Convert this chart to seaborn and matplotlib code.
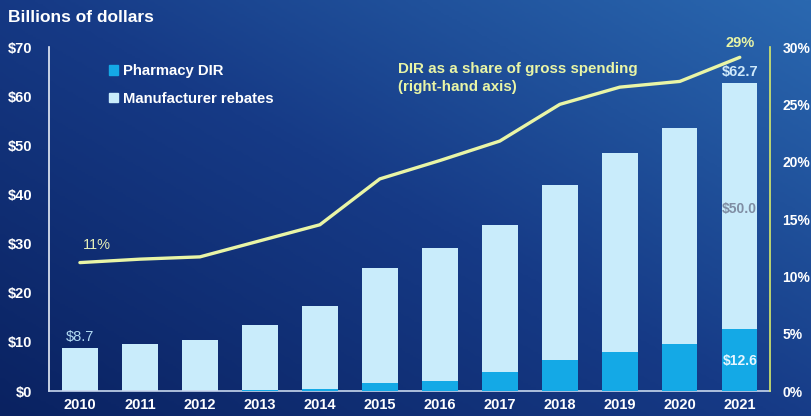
import numpy as np
import pandas as pd
import matplotlib
matplotlib.use("Agg")
import matplotlib.pyplot as plt
import seaborn as sns
from matplotlib.patches import Patch
from matplotlib.colors import LinearSegmentedColormap

years = ["2010", "2011", "2012", "2013", "2014", "2015", "2016", "2017", "2018", "2019", "2020", "2021"]
total = [8.7, 9.6, 10.4, 13.4, 17.4, 25.0, 29.1, 33.8, 41.9, 48.4, 53.5, 62.7]
pharmacy_dir = [0.0, 0.0, 0.1, 0.2, 0.5, 1.7, 2.0, 3.9, 6.3, 8.0, 9.5, 12.6]
manufacturer = [8.7, 9.6, 10.3, 13.2, 16.9, 23.3, 27.1, 29.9, 35.6, 40.4, 44.0, 50.0]
dir_share = [11.2, 11.5, 11.7, 13.1, 14.5, 18.5, 20.1, 21.8, 25.0, 26.5, 27.0, 29.1]
left_ticks = [0, 10, 20, 30, 40, 50, 60, 70]
right_ticks = [0, 5, 10, 15, 20, 25, 30]

df = pd.DataFrame({"year": years, "total": total, "dir": pharmacy_dir,
                   "manufacturer": manufacturer, "share": dir_share})

sns.set_theme(style="white")
plt.rcParams["font.family"] = ["Liberation Sans", "DejaVu Sans"]

C_DIR = "#14a9e6"
C_MAN = "#c9ecfb"
C_LINE = "#e9f5a6"
C_TEXT = "#ffffff"

fig = plt.figure(figsize=(8.12, 4.16), dpi=100)

# background gradient
bg = fig.add_axes([0, 0, 1, 1], zorder=-10)
gx, gy = np.meshgrid(np.linspace(0, 1, 300), np.linspace(0, 1, 200))
grad = 0.6 * gx + 0.55 * gy
cmap = LinearSegmentedColormap.from_list("bg", ["#0a2261", "#163a86", "#2a68b0"])
bg.imshow(grad, cmap=cmap, aspect="auto", origin="lower", extent=[0, 1, 0, 1])
bg.axis("off")

ax = fig.add_axes([0.060, 0.060, 0.888, 0.827])
ax.set_facecolor("none")

sns.barplot(data=df, x="year", y="total", color=C_MAN, width=0.59, ax=ax,
            saturation=1, edgecolor="none", zorder=2)
sns.barplot(data=df, x="year", y="dir", color=C_DIR, width=0.59, ax=ax,
            saturation=1, edgecolor="none", zorder=3)

ax.set_ylim(0, 70)
ax.set_xlim(-0.52, 11.5)
ax.set_yticks(left_ticks)
ax.set_yticklabels([f"${v}" for v in left_ticks])
ax.set_xlabel("")
ax.set_ylabel("")
ax.tick_params(axis="both", colors=C_TEXT, labelsize=10.5, length=0, pad=5)
for lab in ax.get_xticklabels() + ax.get_yticklabels():
    lab.set_fontweight("bold")
    lab.set_color(C_TEXT)
ax.tick_params(axis="y", pad=12)
for s in ["top", "right"]:
    ax.spines[s].set_visible(False)
ax.spines["left"].set_color("#e8eef8")
ax.spines["bottom"].set_color("#c8d8ee")
ax.spines["left"].set_linewidth(1.2)
ax.spines["bottom"].set_linewidth(1.2)

ax2 = ax.twinx()
ax2.set_facecolor("none")
sns.lineplot(x=np.arange(len(years)), y=df["share"], ax=ax2, color=C_LINE,
             linewidth=2.4, zorder=5)
ax2.set_ylim(0, 30)
ax2.set_yticks(right_ticks)
ax2.set_yticklabels([f"{v}%" for v in right_ticks])
ax2.set_ylabel("")
ax2.tick_params(axis="y", colors=C_TEXT, labelsize=10, length=0, pad=9)
for lab in ax2.get_yticklabels():
    lab.set_fontweight("bold")
for s in ["top", "left", "bottom"]:
    ax2.spines[s].set_visible(False)
ax2.spines["right"].set_color("#d7ea6a")
ax2.spines["right"].set_linewidth(1.2)
ax2.set_xlim(-0.52, 11.5)

# annotations
ax.text(0, total[0] + 0.8, f"${total[0]}", color="#b3dcf4", fontsize=10.5,
        ha="center", va="bottom")
ax.text(11, total[11] + 0.8, f"${total[11]}", color="#cfe9fa", fontsize=10.5,
        fontweight="bold", ha="center", va="bottom")
ax.text(11, 37.0, f"${manufacturer[11]:.1f}", color="#7f8da3", fontsize=10,
        fontweight="bold", ha="center", va="center")
ax.text(11, 6.2, f"${pharmacy_dir[11]}", color="#e8f6ff", fontsize=10,
        fontweight="bold", ha="center", va="center")
ax2.text(0.05, dir_share[0] + 0.9, "11%", color="#e6efb8", fontsize=10.5,
         ha="left", va="bottom")
ax2.text(11, dir_share[11] + 0.6, "29%", color="#e9f5a6", fontsize=10.5,
         fontweight="bold", ha="center", va="bottom")
ax2.text(5.3, 27.3, "DIR as a share of gross spending\n(right-hand axis)",
         color="#e9f5a6", fontsize=10.9, fontweight="bold", ha="left", va="center",
         linespacing=1.4)

handles = [Patch(color=C_DIR, label="Pharmacy DIR"),
           Patch(color=C_MAN, label="Manufacturer rebates")]
leg = fig.legend(handles=handles, loc="upper left", bbox_to_anchor=(0.118, 0.878),
                 frameon=False, handlelength=0.6, handleheight=0.6,
                 handletextpad=0.3, labelspacing=0.9, fontsize=10.7)
for t in leg.get_texts():
    t.set_color(C_TEXT)
    t.set_fontweight("bold")

fig.text(0.010, 0.958, "Billions of dollars", color=C_TEXT, fontsize=12.5,
         fontweight="bold", ha="left", va="center")

fig.savefig("out.png", dpi=100)
